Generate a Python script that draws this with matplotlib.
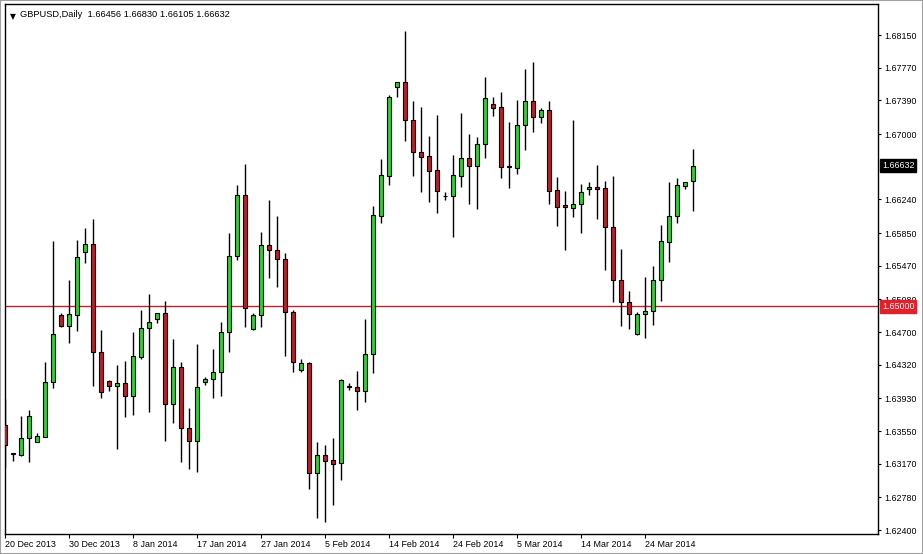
import matplotlib
matplotlib.use("Agg")
import matplotlib.pyplot as plt
from matplotlib.patches import Rectangle
import numpy as np

# ---- data (GBPUSD daily) ----
opens = [1.63620, 1.63280, 1.63268, 1.63469, 1.63426, 1.63484, 1.64116, 1.64898, 1.64774, 1.64898,
         1.65633, 1.65719, 1.64472, 1.64131, 1.64077, 1.64105, 1.63960, 1.64414, 1.64743, 1.64848,
         1.64918, 1.63861, 1.64297, 1.63582, 1.63438, 1.64123, 1.64151, 1.64232, 1.64704, 1.65583,
         1.66292, 1.64735, 1.64898, 1.65711, 1.65653, 1.65545, 1.64936, 1.64259, 1.64337, 1.63059,
         1.63272, 1.63214, 1.63175, 1.64065, 1.64058, 1.64019, 1.64441, 1.66052, 1.66516, 1.67550,
         1.67601, 1.67163, 1.66795, 1.66745, 1.66579, 1.66280, 1.66284, 1.66516, 1.66718, 1.66632,
         1.66881, 1.67346, 1.67318, 1.66625, 1.66609, 1.67102, 1.67384, 1.67201, 1.67279, 1.66350,
         1.66176, 1.66144, 1.66184, 1.66358, 1.66388, 1.66377, 1.65924, 1.65305, 1.65046, 1.64674,
         1.64906, 1.64944, 1.65305, 1.65749, 1.66048, 1.66400, 1.66456]
highs = [1.63922, 1.63299, 1.63725, 1.63794, 1.63527, 1.64356, 1.65758, 1.64918, 1.65305, 1.65769,
         1.65905, 1.66013, 1.64724, 1.64143, 1.64317, 1.64367, 1.64704, 1.64956, 1.65142, 1.64921,
         1.65061, 1.64619, 1.64349, 1.63814, 1.64561, 1.64181, 1.64503, 1.64820, 1.65847, 1.66408,
         1.66652, 1.64918, 1.65866, 1.66234, 1.66051, 1.65615, 1.64956, 1.64387, 1.64349, 1.63419,
         1.63388, 1.63473, 1.64151, 1.64112, 1.64251, 1.64852, 1.66164, 1.66710, 1.67450, 1.67601,
         1.68197, 1.67384, 1.67311, 1.66977, 1.67221, 1.66323, 1.66757, 1.67241, 1.67001, 1.66962,
         1.67659, 1.67427, 1.67485, 1.67136, 1.67395, 1.67756, 1.67833, 1.67306, 1.67384, 1.66501,
         1.66338, 1.67163, 1.66416, 1.66446, 1.66640, 1.66455, 1.66513, 1.65661, 1.65180, 1.64936,
         1.65336, 1.65467, 1.65943, 1.66439, 1.66486, 1.66445, 1.66830]
lows = [1.63132, 1.63206, 1.63260, 1.63194, 1.63423, 1.63478, 1.64047, 1.64755, 1.64569, 1.64716,
        1.65499, 1.64073, 1.63930, 1.64019, 1.63341, 1.63717, 1.63736, 1.64383, 1.63775, 1.64809,
        1.63438, 1.63647, 1.63194, 1.63109, 1.63071, 1.64085, 1.63930, 1.63957, 1.64472, 1.65537,
        1.64762, 1.64724, 1.64762, 1.65331, 1.65227, 1.64425, 1.64239, 1.64239, 1.62877, 1.62543,
        1.62497, 1.62691, 1.62981, 1.64027, 1.63794, 1.63891, 1.64228, 1.65970, 1.66408, 1.67434,
        1.66923, 1.66516, 1.66330, 1.66214, 1.66086, 1.66234, 1.65801, 1.66388, 1.66187, 1.66129,
        1.66725, 1.67213, 1.66493, 1.66377, 1.66536, 1.66815, 1.67027, 1.67132, 1.66187, 1.65932,
        1.65653, 1.66040, 1.65847, 1.66292, 1.66013, 1.65421, 1.65053, 1.64774, 1.64732, 1.64665,
        1.64627, 1.64782, 1.65064, 1.65517, 1.65963, 1.66358, 1.66105]
closes = [1.63388, 1.63290, 1.63466, 1.63725, 1.63492, 1.64116, 1.64674, 1.64774, 1.64910, 1.65568,
          1.65719, 1.64465, 1.64007, 1.64077, 1.64105, 1.63960, 1.64422, 1.64743, 1.64813, 1.64918,
          1.63861, 1.64297, 1.63582, 1.63438, 1.64065, 1.64151, 1.64239, 1.64704, 1.65587, 1.66292,
          1.64976, 1.64898, 1.65711, 1.65653, 1.65545, 1.64936, 1.64349, 1.64337, 1.63059, 1.63272,
          1.63206, 1.63167, 1.64143, 1.64070, 1.64019, 1.64445, 1.66060, 1.66524, 1.67427, 1.67601,
          1.67163, 1.66795, 1.66737, 1.66574, 1.66342, 1.66285, 1.66521, 1.66718, 1.66632, 1.66881,
          1.67415, 1.67306, 1.66621, 1.66620, 1.67102, 1.67384, 1.67201, 1.67279, 1.66342, 1.66156,
          1.66149, 1.66187, 1.66323, 1.66388, 1.66358, 1.65924, 1.65305, 1.65046, 1.64906, 1.64906,
          1.64944, 1.65305, 1.65758, 1.66048, 1.66408, 1.66439, 1.66632]

date_labels = ["20 Dec 2013", "30 Dec 2013", "8 Jan 2014", "17 Jan 2014", "27 Jan 2014",
               "5 Feb 2014", "14 Feb 2014", "24 Feb 2014", "5 Mar 2014", "14 Mar 2014", "24 Mar 2014"]
date_bar_index = [0, 8, 16, 24, 32, 40, 48, 56, 64, 72, 80]
price_ticks = [1.68150, 1.67770, 1.67390, 1.67000, 1.66240, 1.65850, 1.65470, 1.65080,
               1.64700, 1.64320, 1.63930, 1.63550, 1.63170, 1.62780, 1.62400]
level_line = 1.65000
symbol = "GBPUSD,Daily"

FONT = "Liberation Sans"
FS = 6.4
W, H = 923, 554

fig = plt.figure(figsize=(W / 100, H / 100), dpi=100)
fig.patch.set_facecolor("white")
ax = fig.add_axes([4.5 / W, (H - 534) / H, (878 - 4.5) / W, (534 - 4) / H])
ax.set_facecolor("white")

o = np.array(opens); h = np.array(highs); l = np.array(lows); c = np.array(closes)
idx = np.arange(len(o))
up = c >= o
green = "#32CD32"
red = "#B8202A"

ax.axhline(level_line, color="#C8202A", lw=1.0, zorder=1)
ax.vlines(idx, l, h, color="black", lw=1.0, zorder=2)
body_bottom = np.minimum(o, c)
body_h = np.abs(c - o)
ax.bar(idx, body_h, bottom=body_bottom, width=0.62,
       color=np.where(up, green, red), edgecolor="black", linewidth=0.8, zorder=3)

ax.set_xlim(-0.06, (878 - 5) / 8)
ax.set_ylim(1.62354, 1.68511)

for s in ax.spines.values():
    s.set_color("black")
    s.set_linewidth(1.0)

ax.yaxis.tick_right()
ax.set_yticks(price_ticks)
ax.set_yticklabels([f"{v:.5f}" for v in price_ticks], fontfamily=FONT, fontsize=FS)
ax.tick_params(axis="y", direction="out", length=2.5, width=0.8, pad=2, colors="black")

ax.set_xticks(date_bar_index)
ax.set_xticklabels(date_labels, fontfamily=FONT, fontsize=FS)
for t in ax.get_xticklabels():
    t.set_horizontalalignment("left")
ax.tick_params(axis="x", direction="out", length=3, width=0.8, pad=1.5, colors="black")

# header
ax.text(0.0065, 0.985, "\u25BC", transform=ax.transAxes, fontsize=5.5, va="top", ha="left",
        fontfamily="DejaVu Sans")
ax.text(0.0175, 0.988, f"{symbol}  {opens[-1]:.5f} {highs[-1]:.5f} {lows[-1]:.5f} {closes[-1]:.5f}",
        transform=ax.transAxes, fontsize=6.7, va="top", ha="left", fontfamily=FONT)

# price boxes on right axis
trans = ax.get_yaxis_transform()
for val, bg in [(closes[-1], "black"), (level_line, "#E0202A")]:
    ax.text(1.0 + 4 / (878 - 4.5), val, f"{val:.5f}", transform=trans, fontsize=FS,
            fontfamily=FONT, color="white", va="center", ha="left", clip_on=False, zorder=5,
            bbox=dict(boxstyle="square,pad=0.22", facecolor=bg, edgecolor=bg))

# outer light border
fig.patches.append(Rectangle((0, 0), 1, 1, transform=fig.transFigure, fill=False,
                             edgecolor="#A0A0A0", linewidth=1.5))

fig.savefig("out.png", dpi=100, facecolor="white")
